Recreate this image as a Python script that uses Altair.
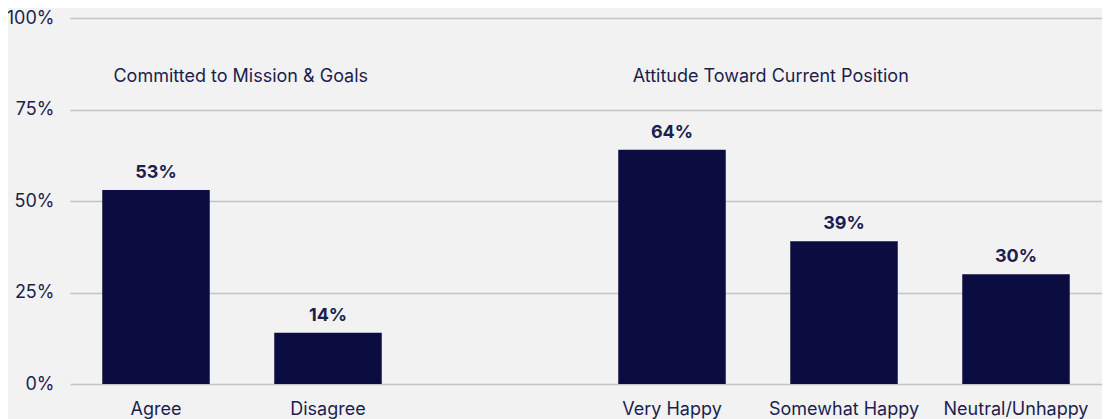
import altair as alt
import pandas as pd

categories = ["Agree", "Disagree", " ", "Very Happy", "Somewhat Happy", "Neutral/Unhappy"]
bar_cats = ["Agree", "Disagree", "Very Happy", "Somewhat Happy", "Neutral/Unhappy"]
values = [53, 14, 64, 39, 30]
value_labels = ["53%", "14%", "64%", "39%", "30%"]
group_titles = ["Committed to Mission & Goals", "Attitude Toward Current Position"]
group_anchor = ["Agree", "Very Happy"]
group_y = [84.0, 84.0]

FONT = "Inter"
NAVY = "#0b0d40"
TXT = "#1c1e4e"
FS = 18

bars_df = pd.DataFrame({"cat": bar_cats, "val": values, "lbl": value_labels})
grp1 = pd.DataFrame({"cat": group_anchor[:1], "y": group_y[:1], "t": group_titles[:1]})
grp2 = pd.DataFrame({"cat": group_anchor[1:], "y": group_y[1:], "t": group_titles[1:]})

xscale = alt.Scale(domain=categories, paddingInner=0.375, paddingOuter=0.1875)
yscale = alt.Scale(domain=[0, 100])

x = alt.X("cat:N", scale=xscale, sort=categories, title=None,
          axis=alt.Axis(labelAngle=0, domain=False, ticks=False, labelPadding=16,
                        labelFontSize=FS, labelColor=TXT, labelFont=FONT, grid=False))
y = alt.Y("val:Q", scale=yscale, title=None,
          axis=alt.Axis(values=[0, 25, 50, 75, 100], labelExpr="datum.value + '%'",
                        domain=False, ticks=False, labelPadding=16, labelFontSize=FS,
                        labelColor=TXT, labelFont=FONT, grid=True, gridColor="#c4c4c4",
                        gridWidth=1.5))

bars = alt.Chart(bars_df).mark_bar(color=NAVY).encode(x=x, y=y)
labels = alt.Chart(bars_df).mark_text(font=FONT, fontSize=FS, fontWeight="bold", color=TXT,
                                      baseline="bottom", dy=-8).encode(
    x=alt.X("cat:N", scale=xscale, sort=categories),
    y=alt.Y("val:Q", scale=yscale),
    text="lbl:N")


def group_layer(df, dx):
    return alt.Chart(df).mark_text(font=FONT, fontSize=FS, color=TXT, align="center",
                                   baseline="middle", dx=dx).encode(
        x=alt.X("cat:N", scale=xscale, sort=categories, bandPosition=1),
        y=alt.Y("y:Q", scale=yscale),
        text="t:N")


chart = alt.layer(bars, labels, group_layer(grp1, 31), group_layer(grp2, 45)).properties(
    width=1032, height=366,
    background="#f2f2f2",
    padding={"left": 62, "top": 10, "right": 0, "bottom": 35},
    autosize=alt.AutoSizeParams(type="none"),
).configure_view(stroke=None)

chart.save("out.html", embed_options={"renderer": "svg", "actions": False})
